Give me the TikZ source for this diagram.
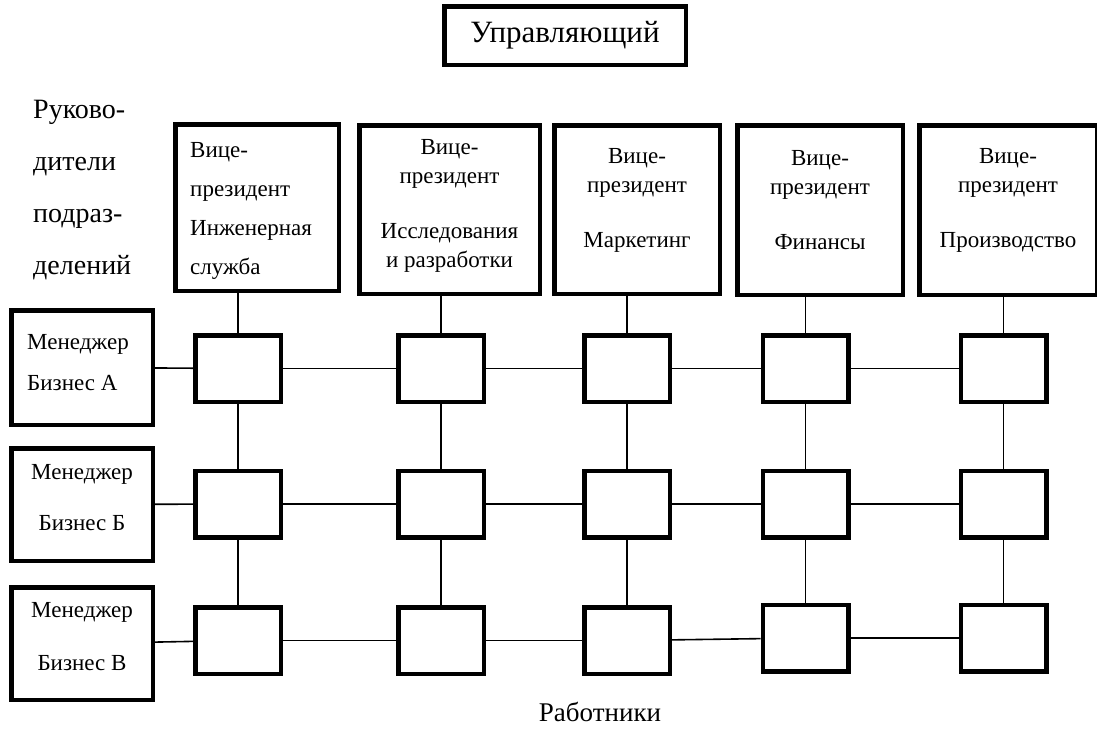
\documentclass[tikz,border=0pt]{standalone}
\usepackage{fontspec}
\IfFontExistsTF{LiberationSerif-Regular.ttf}
  {\newfontfamily\timesfam{LiberationSerif-Regular.ttf}}
  {\newfontfamily\timesfam{DejaVu Serif}[Scale=0.86]}
\begin{document}
\begin{tikzpicture}[x=1pt,y=-1pt,
  every node/.style={font=\timesfam},
  heavy/.style={draw, line width=4.5pt, inner sep=0pt},
  cell/.style={heavy, minimum width=85.5pt, minimum height=66.5pt},
  wire/.style={line width=1.6pt},
  txt/.style={inner sep=0pt, font=\timesfam\fontsize{23}{29}\selectfont, align=center},
]
\useasboundingbox (0,0) rectangle (1097,728);

% top manager
\node[heavy, minimum width=241.5pt, minimum height=58.5pt,
      font=\timesfam\fontsize{31}{34}\selectfont] (boss) at (565,35.5) {Управляющий};

% division heads label
\node[txt, anchor=west, align=left, font=\timesfam\fontsize{28}{52}\selectfont]
  (heads) at (33,190) {Руково-\\дители\\подраз-\\делений};

% vice-president boxes
\node[heavy, minimum width=163.5pt, minimum height=166.5pt] (vp1) at (257,207.5) {};
\node[heavy, minimum width=180.5pt, minimum height=168.5pt] (vp2) at (449.5,209.5) {};
\node[heavy, minimum width=165.5pt, minimum height=168.5pt] (vp3) at (637,209.5) {};
\node[heavy, minimum width=165.5pt, minimum height=169.5pt] (vp4) at (820,210) {};
\node[heavy, minimum width=177.5pt, minimum height=169.5pt] (vp5) at (1008,210) {};

\node[txt, anchor=west, align=left, font=\timesfam\fontsize{23}{39}\selectfont]
  (vp1t) at (190,211) {Вице-\\президент\\Инженерная\\служба};
\node[txt] (vp2t) at (449.5,206) {Вице-\\президент\\[26pt]Исследования\\и разработки};
\node[txt] (vp3t) at (637,200) {Вице-\\президент\\[26pt]Маркетинг};
\node[txt] (vp4t) at (820,200) {Вице-\\президент\\[26pt]Финансы};
\node[txt] (vp5t) at (1008,200) {Вице-\\президент\\[26pt]Производство};

% business managers
\node[heavy, minimum width=141.5pt, minimum height=114.5pt] (mA) at (82,367.5) {};
\node[heavy, minimum width=141.5pt, minimum height=112.5pt] (mB) at (82,504.5) {};
\node[heavy, minimum width=141.5pt, minimum height=112.5pt] (mC) at (82,643.5) {};

\node[txt, anchor=west, align=left, font=\timesfam\fontsize{23}{41}\selectfont]
  (mAt) at (27,362.5) {Менеджер\\Бизнес А};
\node[txt, font=\timesfam\fontsize{23}{51}\selectfont] (mBt) at (82,497.5) {Менеджер\\Бизнес Б};
\node[txt, font=\timesfam\fontsize{23}{53}\selectfont] (mCt) at (82,636.5) {Менеджер\\Бизнес В};

% matrix cells
\foreach \x/\yc [count=\i] in {238/640.5, 441/640.5, 627/640.5, 805.5/638, 1003.5/638} {
  \node[cell] (a\i) at (\x,368.5) {};
  \node[cell] (b\i) at (\x,504) {};
  \node[cell] (c\i) at (\x,\yc) {};
}

% vertical links
\foreach \i in {1,...,5} {
  \draw[wire] (a\i.north) -- (a\i.north |- vp\i.south);
  \draw[wire] (a\i) -- (b\i);
  \draw[wire] (b\i) -- (c\i);
}

% horizontal links
\draw[wire] (mA) -- (a1);
\draw[wire] (mB) -- (b1);
\draw[wire] (mC) -- (c1);
\foreach \i/\j in {1/2, 2/3, 3/4, 4/5} {
  \draw[wire] (a\i) -- (a\j);
  \draw[wire] (b\i) -- (b\j);
  \draw[wire] (c\i) -- (c\j);
}

% workers label
\node[txt, font=\timesfam\fontsize{27}{30}\selectfont] (workers) at (600,712) {Работники};
\end{tikzpicture}
\end{document}
